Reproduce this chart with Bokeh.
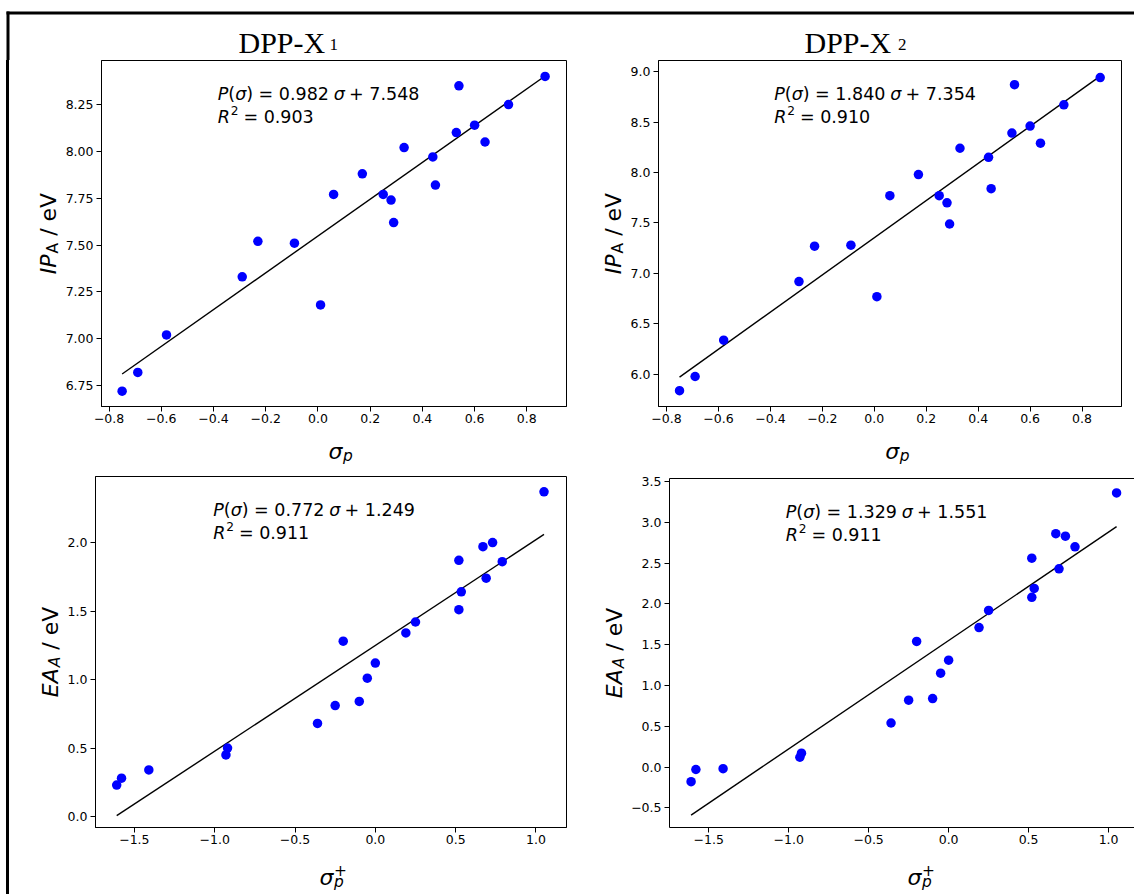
from math import pi
from bokeh.plotting import figure
from bokeh.models import (Range1d, FixedTicker, CustomJSTickFormatter, Label,
                          Spacer, LinearAxis, BoxAnnotation)
from bokeh.layouts import row, column
from bokeh.embed import file_html
from bokeh.resources import INLINE

# ---------------- data ----------------
sigma_p = [-0.75, -0.69, -0.58, -0.29, -0.23, -0.09, 0.01, 0.06, 0.17, 0.25, 0.28,
           0.29, 0.33, 0.44, 0.45, 0.53, 0.54, 0.60, 0.64, 0.73, 0.87]
ip_x1 = [6.72, 6.82, 7.02, 7.33, 7.52, 7.51, 7.18, 7.77, 7.88, 7.77, 7.74,
         7.62, 8.02, 7.97, 7.82, 8.10, 8.35, 8.14, 8.05, 8.25, 8.40]
ip_x2 = [5.84, 5.98, 6.34, 6.92, 7.27, 7.28, 6.77, 7.77, 7.98, 7.77, 7.70,
         7.49, 8.24, 8.15, 7.84, 8.39, 8.87, 8.46, 8.29, 8.67, 8.94]
sigma_p_plus = [-1.61, -1.58, -1.41, -0.93, -0.92, -0.36, -0.25, -0.20, -0.10, -0.05, 0.00,
                0.19, 0.25, 0.52, 0.52, 0.535, 0.67, 0.69, 0.73, 0.79, 1.05]
ea_x1 = [0.23, 0.28, 0.34, 0.45, 0.50, 0.68, 0.81, 1.28, 0.84, 1.01, 1.12,
         1.34, 1.42, 1.87, 1.51, 1.64, 1.97, 1.74, 2.00, 1.86, 2.37]
ea_x2 = [-0.18, -0.03, -0.02, 0.12, 0.17, 0.54, 0.82, 1.54, 0.84, 1.15, 1.31,
         1.71, 1.92, 2.56, 2.08, 2.19, 2.86, 2.43, 2.83, 2.70, 3.36]

fit_slope = [0.982, 1.840, 0.772, 1.329]
fit_intercept = [7.548, 7.354, 1.249, 1.551]
fit_r2 = [0.903, 0.910, 0.911, 0.911]

titles = ["DPP-X", "DPP-X"]
title_subs = ["1", "2"]

ticks_top_x = [-0.8, -0.6, -0.4, -0.2, 0.0, 0.2, 0.4, 0.6, 0.8]
ticks_ip1_y = [6.75, 7.00, 7.25, 7.50, 7.75, 8.00, 8.25]
ticks_ip2_y = [6.0, 6.5, 7.0, 7.5, 8.0, 8.5, 9.0]
ticks_bot_x = [-1.5, -1.0, -0.5, 0.0, 0.5, 1.0]
ticks_ea1_y = [0.0, 0.5, 1.0, 1.5, 2.0]
ticks_ea2_y = [-0.5, 0.0, 0.5, 1.0, 1.5, 2.0, 2.5, 3.0, 3.5]

# ---------------- helpers ----------------
FONT = "DejaVu Sans"
WID = {' ': 0.318, '(': 0.390, ')': 0.390, '=': 0.838, '+': 0.838, '.': 0.318,
       '/': 0.337, 'P': 0.603, 'R': 0.695, 'I': 0.295, 'A': 0.684, 'E': 0.632,
       'e': 0.615, 'V': 0.684, 'p': 0.635, 'σ': 0.634}


def tw(s, size):
    return sum(WID.get(c, 0.636) for c in s) * size


def pieces_label(p, x, y, x0, y0, pieces, angle=0.0, font=FONT):
    """pieces: (text, size, style, baseline shift, gap before, advances?)"""
    cum = 0.0
    for text, size, style, shift, gap, adv in pieces:
        cum += gap
        if angle == 0:
            xo, yo = x0 + cum, y0 + shift
        else:
            xo, yo = x0 - shift, y0 + cum
        p.add_layout(Label(x=x, y=y, x_offset=xo, y_offset=yo, text=text,
                           angle=angle, text_font=font,
                           text_font_size=f"{size:.1f}px", text_font_style=style,
                           text_align="left", text_baseline="alphabetic",
                           text_color="black"))
        if adv:
            cum += tw(text, size)
    return cum


def pieces_length(pieces):
    return sum(gap + (tw(t, s) if adv else 0) for t, s, st, sh, gap, adv in pieces)


def fmt(decimals):
    return CustomJSTickFormatter(
        code=f"return tick.toFixed({decimals}).replace('-', '\\u2212');")


def deco(w, h):
    d = figure(width=w, height=h, output_backend="svg", toolbar_location=None,
               x_range=Range1d(0, w), y_range=Range1d(0, h),
               x_axis_location=None, y_axis_location=None, min_border=0,
               outline_line_color=None)
    d.grid.visible = False
    d.background_fill_color = "white"
    d.border_fill_color = "white"
    return d


def make_panel(width, height, borders, xr, yr, xt, yt, ydec, outline=True):
    bl, br, bt, bb = borders
    p = figure(width=width, height=height, output_backend="svg",
               toolbar_location=None, x_range=Range1d(*xr), y_range=Range1d(*yr),
               min_border_left=bl, min_border_right=br, min_border_top=bt,
               min_border_bottom=bb)
    p.grid.visible = False
    p.background_fill_color = "white"
    p.border_fill_color = "white"
    p.outline_line_color = "black" if outline else None
    p.outline_line_width = 1
    for ax in (p.xaxis[0], p.yaxis[0]):
        ax.axis_line_color = "black"
        ax.axis_line_width = 1
        ax.major_tick_line_color = "black"
        ax.major_tick_out = 5
        ax.major_tick_in = 0
        ax.minor_tick_line_color = None
        ax.major_label_text_font = FONT
        ax.major_label_text_font_size = "12.5px"
        ax.major_label_text_color = "black"
        ax.major_label_standoff = 2
    p.yaxis.major_label_standoff = 3
    p.xaxis.ticker = FixedTicker(ticks=xt)
    p.yaxis.ticker = FixedTicker(ticks=yt)
    p.xaxis.formatter = fmt(1)
    p.yaxis.formatter = fmt(ydec)
    return p


def fill_panel(p, xs, ys, k, xr, yr):
    xmin, xmax = min(xs), max(xs)
    p.line([xmin, xmax], [fit_slope[k] * xmin + fit_intercept[k],
                          fit_slope[k] * xmax + fit_intercept[k]],
           line_color="black", line_width=1.4)
    p.scatter(xs, ys, size=9.5, fill_color="#0000ff", line_color=None)

    f = 17.5
    fx = xr[0] + 0.25 * (xr[1] - xr[0])
    line1 = [("P", f, "italic", 0, 0, True),
             ("(", f, "normal", 0, 0, True),
             ("σ", f, "italic", 0, 0, True),
             (f") = {fit_slope[k]:.3f}", f, "normal", 0, 0, True),
             ("σ", f, "italic", 0, 0.28 * f, True),
             (f"+ {fit_intercept[k]:.3f}", f, "normal", 0, 0.24 * f, True)]
    pieces_label(p, fx, yr[1], 0, -33, line1)
    line2 = [("R", f, "italic", 0, 0, True),
             ("2", 0.7 * f, "normal", 7, 0.8, True),
             (f"= {fit_r2[k]:.3f}", f, "normal", 0, 0.28 * f, True)]
    pieces_label(p, fx, yr[1], 0, -56.5, line2)


def ylabel_fig(w, h, parts, bx, cy):
    d = deco(w, h)
    total = pieces_length(parts)
    pieces_label(d, bx, cy, 0, -total / 2, parts, angle=pi / 2)
    return d


def xlabel_fig(w, h, cx, by, sup):
    d = deco(w, h)
    F = 22
    sub = 0.7 * F
    parts = [("σ", F, "italic", 0, 0, True),
             ("p", sub, "italic", -4, 0.5, False)]
    extra = tw("p", sub)
    if sup:
        parts.append(("+", sub, "normal", 7.5, 0, False))
        extra = tw("+", sub)
    total = tw("σ", F) + 0.5 + extra
    pieces_label(d, cx, by, -total / 2, 0, parts)
    return d


F = 22
SUB = 0.7 * F
ip_parts = [("IP", F, "italic", 0, 0, True),
            ("A", SUB, "normal", -4.5, 1, True),
            ("/ eV", F, "normal", 0, tw(" ", F), True)]
ea_parts = [("EA", F, "italic", 0, 0, True),
            ("A", SUB, "italic", -4.5, 1, True),
            ("/ eV", F, "normal", 0, tw(" ", F), True)]

# ---------------- panels ----------------
r1 = ((-0.829, 0.952), (6.638, 8.485))
r2 = ((-0.831, 0.952), (5.683, 9.109))
r3 = ((-1.742, 1.190), (-0.080, 2.482))
r4 = ((-1.745, 1.162), (-0.741, 3.537))

p1 = make_panel(528, 369, (39, 24, 0, 23), r1[0], r1[1], ticks_top_x, ticks_ip1_y, 2)
fill_panel(p1, sigma_p, ip_x1, 0, r1[0], r1[1])

p2 = make_panel(507, 369, (29, 13, 0, 23), r2[0], r2[1], ticks_top_x, ticks_ip2_y, 1)
fill_panel(p2, sigma_p, ip_x2, 1, r2[0], r2[1])

p3 = make_panel(526, 386, (29, 24, 10, 25), r3[0], r3[1], ticks_bot_x, ticks_ea1_y, 1)
fill_panel(p3, sigma_p_plus, ea_x1, 2, r3[0], r3[1])

p4 = make_panel(506, 386, (40, 0, 12, 25), r4[0], r4[1], ticks_bot_x, ticks_ea2_y, 1,
                outline=False)
top_axis = LinearAxis(ticker=FixedTicker(ticks=[]), major_tick_out=0,
                      major_tick_in=0, minor_tick_out=0, minor_tick_in=0,
                      major_label_text_font_size="0px", major_label_standoff=0,
                      axis_line_color="black", axis_line_width=1)
p4.add_layout(top_axis, "above")
fill_panel(p4, sigma_p_plus, ea_x2, 3, r4[0], r4[1])

# ---------------- title strip (with the black frame corner) ----------------
TH = 60
tfig = deco(1134, TH)
tfig.add_layout(BoxAnnotation(left=6, right=1134, bottom=TH - 14, top=TH - 11,
                              fill_color="black", fill_alpha=1, line_color=None))
tfig.add_layout(BoxAnnotation(left=6, right=9, bottom=0, top=TH - 11,
                              fill_color="black", fill_alpha=1, line_color=None))
for txt, sub, xm, xs_ in ((titles[0], title_subs[0], 238, 329),
                          (titles[1], title_subs[1], 804, 897.5)):
    tfig.add_layout(Label(x=xm, y=TH - 42, text=txt, text_font="Liberation Serif",
                          text_font_size="30px", text_align="left",
                          text_baseline="alphabetic", text_color="black"))
    tfig.add_layout(Label(x=xs_, y=TH - 43.5, text=sub, text_font="Liberation Serif",
                          text_font_size="17px", text_align="left",
                          text_baseline="alphabetic", text_color="black"))

# ---------------- axis label strips ----------------
yl1 = ylabel_fig(53, 406, ip_parts, 39, 233)
yl2 = ylabel_fig(37, 406, ip_parts, 23, 233)
yl3 = ylabel_fig(55, 428, ea_parts, 41, 242.5)
yl4 = ylabel_fig(38, 428, ea_parts, 24, 241.5)

xl1 = xlabel_fig(528, 37, 271.5, 15, False)
xl2 = xlabel_fig(507, 37, 261.5, 15, False)
xl3 = xlabel_fig(526, 42, 265.5, 17, True)
xl4 = xlabel_fig(506, 42, 274, 17, True)

top_half = row(yl1, column(p1, xl1), yl2, column(p2, xl2))
bottom_half = row(yl3, column(p3, xl3), yl4, column(p4, xl4))
content = column(top_half, bottom_half)

# ---------------- layout ----------------
black = {"background-color": "black"}
lower = row(Spacer(width=6, height=894 - TH),
            Spacer(width=3, height=894 - TH, styles=black), content)
root = column(tfig, lower)

open("out.html", "w").write(file_html(root, INLINE, title="DPP-X"))
